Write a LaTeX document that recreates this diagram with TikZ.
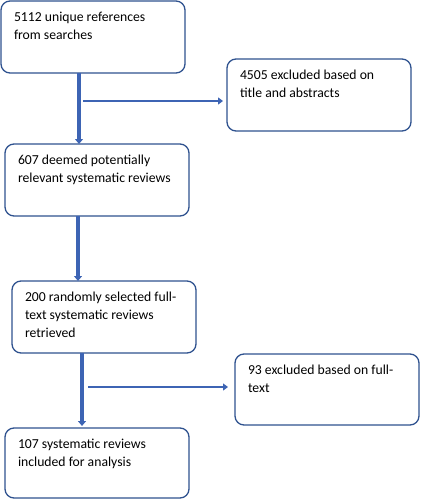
\documentclass[tikz,border=0pt]{standalone}
\usepackage{fontspec}
\setmainfont{Carlito}
\usetikzlibrary{calc,arrows.meta}
\definecolor{boxline}{HTML}{2F528F}
\definecolor{arrowc}{HTML}{3D64B4}
\tikzset{
  box/.style={draw=boxline, line width=1.3pt, rounded corners=9pt, fill=white,
    inner xsep=13pt, inner ysep=0pt, outer sep=0pt, anchor=north west},
  vline/.style={draw=arrowc, line width=3.6pt, -{Stealth[length=5pt,width=8pt,inset=0pt]}},
  hline/.style={draw=arrowc, line width=2.8pt, -{Stealth[length=5pt,width=7pt,inset=0pt]}},
}
\newcommand{\boxtext}[2]{\parbox[c][#1pt][t]{158pt}{\fontsize{13.7pt}{18pt}\selectfont\rule{0pt}{20.5pt}#2}}
\begin{document}
\begin{tikzpicture}[x=1pt,y=-1pt]
\useasboundingbox (0,0) rectangle (421,500);
\node[box] (b1) at (1,1) {\boxtext{72}{5112 unique references\\from searches}};
\node[box] (b2) at (227,59) {\boxtext{72}{4505 excluded based on\\title and abstracts}};
\node[box] (b3) at (5,144) {\boxtext{72}{607 deemed potentially\\relevant systematic reviews}};
\node[box] (b4) at (12,281) {\boxtext{72}{200 randomly selected full-\\text systematic reviews\\retrieved}};
\node[box] (b5) at (235,354) {\boxtext{71}{93 excluded based on full-\\text}};
\node[box] (b6) at (5,428) {\boxtext{70}{107 systematic reviews\\included for analysis}};
% connectors
\coordinate (s1) at ($(b1.south west)+(78,0)$);
\draw[vline] (s1) -- (s1 |- b3.north);
\coordinate (h1) at ($(s1)+(4,28)$);
\draw[hline] (h1) -- ($(h1 -| b2.west)+(-4,0)$);
\coordinate (s2) at ($(b3.south west)+(73,0)$);
\draw[vline] (s2) -- (s2 |- b4.north);
\coordinate (s3) at ($(b4.south west)+(70,0)$);
\draw[vline] (s3) -- ($(s3 |- b6.north)+(0,-2)$);
\coordinate (h2) at ($(s3)+(6,34)$);
\draw[hline] (h2) -- ($(h2 -| b5.west)+(-7,0)$);
\end{tikzpicture}
\end{document}
